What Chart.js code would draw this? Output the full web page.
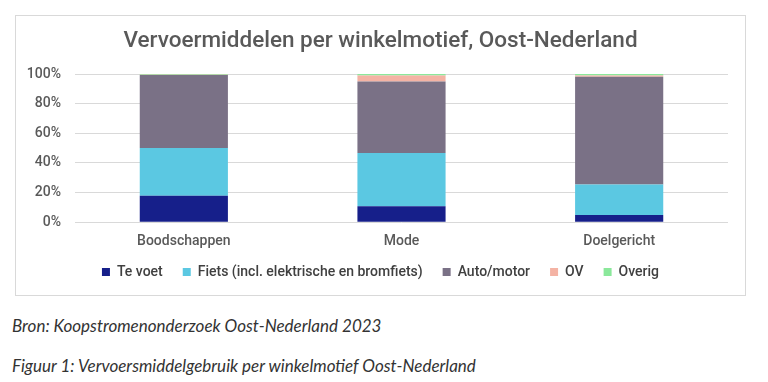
<!DOCTYPE html>
<html>
<head>
<meta charset="utf-8">
<script src="https://cdn.jsdelivr.net/npm/chart.js@4"></script>
<style>
  html, body { margin: 0; padding: 0; background: #fff; }
  body { width: 768px; height: 382px; position: relative; overflow: hidden; }
  .frame {
    position: absolute; left: 15px; top: 15px;
    width: 729px; height: 279px;
    border: 1px solid #d9d9d9;
  }
  .caption {
    position: absolute; left: 12px; margin: 0;
    font-family: Lato, "Open Sans", sans-serif; font-style: italic;
    font-size: 17px; color: #333;
  }
</style>
</head>
<body>
<div class="frame"><canvas id="chart" width="729" height="279"></canvas></div>
<p class="caption" style="top:315px;">Bron: Koopstromenonderzoek Oost-Nederland 2023</p>
<p class="caption" style="top:355px;">Figuur 1: Vervoersmiddelgebruik per winkelmotief Oost-Nederland</p>

<script>
const categories = ['Boodschappen', 'Mode', 'Doelgericht']
const teVoet = [17.8, 10.8, 4.9]
const fiets = [32.3, 35.9, 20.6]
const autoMotor = [49.2, 48.3, 72.7]
const ov = [0.2, 4.0, 0.8]
const overig = [0.5, 1.0, 1.0]
const yTicks = [0, 20, 40, 60, 80, 100]

const FONT = 'Roboto, "Noto Sans", sans-serif'

// legend only reserves a short strip in the layout, then gets moved up and
// given room to draw, so the plot can be as tall as in the original
const legendNudge = {
  id: 'legendNudge',
  afterLayout(chart) {
    const l = chart.legend
    l.top -= 15
    l.bottom = chart.height
  },
}

new Chart(document.getElementById('chart'), {
  type: 'bar',
  data: {
    labels: categories,
    datasets: [
      { label: 'Te voet', data: teVoet, backgroundColor: '#161f8a' },
      { label: 'Fiets (incl. elektrische en bromfiets)', data: fiets, backgroundColor: '#5bc8e2' },
      { label: 'Auto/motor', data: autoMotor, backgroundColor: '#7a7186' },
      { label: 'OV', data: ov, backgroundColor: '#f4b3a4' },
      { label: 'Overig', data: overig, backgroundColor: '#8be89b' },
    ],
  },
  plugins: [legendNudge],
  options: {
    responsive: false,
    animation: false,
    layout: { padding: { left: 0, right: 0, top: 0, bottom: 0 } },
    datasets: { bar: { barPercentage: 0.6, categoryPercentage: 0.675 } },
    plugins: {
      title: {
        display: true,
        text: 'Vervoermiddelen per winkelmotief, Oost-Nederland',
        color: '#595959',
        font: { family: FONT, size: 22.5, weight: '500' },
        padding: { top: 12, bottom: 19 },
      },
      legend: {
        position: 'bottom',
        maxHeight: 35,
        labels: {
          color: '#404040',
          font: { family: FONT, size: 14, weight: '500' },
          boxWidth: 8,
          boxHeight: 8,
          padding: 20,
        },
      },
      tooltip: { enabled: false },
    },
    scales: {
      x: {
        stacked: true,
        grid: { display: false, drawTicks: false },
        border: { display: false },
        ticks: { color: '#595959', font: { family: FONT, size: 14, weight: '500' }, padding: 10.5 },
      },
      y: {
        stacked: true,
        min: 0,
        max: 100,
        afterFit: (axis) => { axis.width = 59 },
        afterBuildTicks: (axis) => { axis.ticks = yTicks.map((v) => ({ value: v })) },
        grid: { color: '#d9d9d9', drawTicks: false },
        border: { display: false },
        ticks: {
          color: '#595959',
          font: { family: FONT, size: 14, weight: '500' },
          padding: 14,
          callback: (v) => v + '%',
        },
      },
      // empty spacer on the right so the plot ends where the original does
      spacer: {
        type: 'linear',
        position: 'right',
        afterFit: (axis) => { axis.width = 17 },
        grid: { display: false, drawTicks: false },
        border: { display: false },
        ticks: { display: false },
      },
    },
  },
})
</script>
</body>
</html>
